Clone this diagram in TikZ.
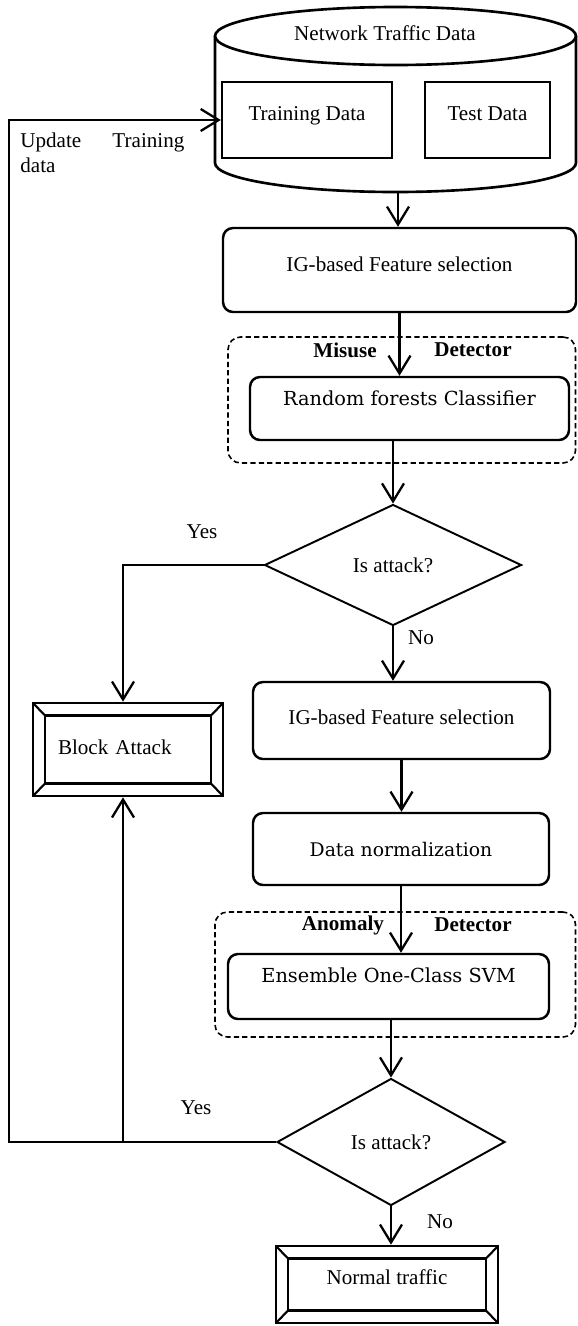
\documentclass[tikz,border=0pt]{standalone}
\usepackage{fontspec}
\setmainfont{Liberation Serif}
\newfontfamily\cambriaface{DejaVu Serif}
\usepackage{tikz}
\usetikzlibrary{positioning,shapes.geometric,arrows.meta}
\tikzset{
  procnode/.style={draw,line width=1.4pt,rounded corners=0.2cm,inner sep=0pt,
    font=\fontsize{12}{14}\selectfont,text height=0.3cm},
  datanode/.style={draw,line width=1.3pt,inner sep=0pt,
    font=\fontsize{12}{14}\selectfont,text height=0.3cm},
  decnode/.style={diamond,aspect=2,draw,line width=1.1pt,inner sep=0pt,
    font=\fontsize{12}{14}\selectfont},
  groupnode/.style={draw,line width=0.9pt,dash pattern=on 3pt off 1.8pt,
    rounded corners=0.25cm,inner sep=0pt},
  grouplabel/.style={font=\fontsize{12}{14}\selectfont\bfseries,inner sep=0pt},
  endnode/.style={draw,line width=1.5pt,inner sep=0pt,
    font=\fontsize{12}{14}\selectfont,text height=0.3cm,
    path picture={
      \draw[line width=1.5pt]
        ([shift={(0.24,-0.25)}]path picture bounding box.north west) rectangle
        ([shift={(-0.24,0.25)}]path picture bounding box.south east);
      \draw[line width=1.2pt]
        (path picture bounding box.north west) -- ++(0.24,-0.25)
        (path picture bounding box.north east) -- ++(-0.24,-0.25)
        (path picture bounding box.south west) -- ++(0.24,0.25)
        (path picture bounding box.south east) -- ++(-0.24,0.25);
    }},
  cylline/.style={line width=1.5pt},
  flow/.style={line width=1.3pt,-{Straight Barb[length=3.6mm,width=4.4mm]}},
  link/.style={line width=1.3pt},
  txt/.style={font=\fontsize{12}{14}\selectfont,inner sep=0pt},
}
\begin{document}
\begin{tikzpicture}
  \useasboundingbox (0,0) rectangle (11.56,-26.52);
  \draw[cylline] (7.91,-0.72) ellipse[x radius=3.61,y radius=0.58];
  \draw[cylline] (4.30,-0.72) -- (4.30,-3.26)
    arc[start angle=180,end angle=360,x radius=3.61,y radius=0.58] -- (11.52,-0.72);
  \node[txt] (dbtitle) at (7.70,-0.66) {Network Traffic Data};
  \node[datanode,minimum width=3.40cm,minimum height=1.52cm,text depth=0.30cm] (trainbox) at (6.14,-2.40) {Training Data};
  \node[datanode,minimum width=2.50cm,minimum height=1.52cm,text depth=0.30cm] (testbox) at (9.75,-2.40) {Test Data};
  \coordinate (dbbot) at (7.96,-3.84);

  \node[procnode,minimum width=7.06cm,minimum height=1.68cm,text depth=0.26cm] (ig1) at (7.99,-5.40) {IG-based Feature selection};
  \node[groupnode,minimum width=6.95cm,minimum height=2.52cm] (misuse) at (8.035,-8.00) {};
  \node[grouplabel] (misuselbl) at (6.90,-7.00) {Misuse};
  \node[grouplabel] (misusedet) at (9.46,-7.00) {Detector};
  \node[procnode,font=\cambriaface\fontsize{11}{13}\selectfont,minimum width=6.38cm,minimum height=1.26cm,text depth=0.44cm] (rf) at (8.19,-8.17) {Random forests Classifier};

  \node[decnode,minimum width=5.14cm,minimum height=2.42cm] (dia1) at (7.86,-11.30) {Is attack?};
  \node[txt] (yes1) at (4.04,-10.64) {Yes};
  \node[txt] (no1) at (8.42,-12.76) {No};

  \node[endnode,text width=2.8cm,align=left,inner xsep=0.5cm,minimum height=1.86cm,text depth=0.12cm] (block) at (2.56,-14.99) {Block Attack};

  \node[procnode,minimum width=5.94cm,minimum height=1.54cm,text depth=0.16cm] (ig2) at (8.03,-14.41) {IG-based Feature selection};
  \node[procnode,font=\cambriaface\fontsize{10.7}{13}\selectfont,minimum width=5.92cm,minimum height=1.44cm,text depth=0.02cm] (dn) at (8.02,-16.98) {Data normalization};
  \node[groupnode,minimum width=7.21cm,minimum height=2.50cm] (anomaly) at (7.905,-19.49) {};
  \node[grouplabel] (anomalylbl) at (6.86,-18.50) {Anomaly};
  \node[grouplabel] (anomalydet) at (9.46,-18.50) {Detector};
  \node[procnode,font=\cambriaface\fontsize{11}{13}\selectfont,minimum width=6.42cm,minimum height=1.30cm,text depth=0.48cm] (ecs) at (7.77,-19.73) {Ensemble One-Class SVM};

  \node[decnode,minimum width=4.56cm,minimum height=2.54cm] (dia2) at (7.82,-22.84) {Is attack?};
  \node[txt] (yes2) at (3.92,-22.16) {Yes};
  \node[txt] (no2) at (8.80,-24.44) {No};
  \node[endnode,minimum width=4.44cm,minimum height=1.54cm,text depth=0.32cm] (normal) at (7.74,-25.69) {Normal traffic};

  \coordinate (feedx) at (0.18,-2.40);
  \node[txt,text width=3.28cm,align=left,anchor=north west] (updlbl) at (0.40,-2.65) {Update\hfill Training\\data};

  \draw[flow] (dbbot) -- (dbbot |- ig1.north);
  \draw[flow] (ig1.south) -- (ig1.south |- rf.north);
  \draw[flow] (dia1.north |- rf.south) -- (dia1.north);
  \draw[flow] (dia1.south) -- (dia1.south |- ig2.north);
  \draw[flow] (dia1.west) -| ([xshift=-0.1cm]block.north);
  \draw[flow] (ig2.south) -- (ig2.south |- dn.north);
  \draw[flow] (dn.south) -- (dn.south |- ecs.north);
  \draw[flow] (dia2.north |- ecs.south) -- (dia2.north);
  \draw[flow] (dia2.south) -- (dia2.south |- normal.north);
  \draw[flow] (dia2.west) -| (feedx) |- (trainbox.west);
  \draw[flow] ([xshift=-0.1cm]block.south |- dia2.west) -- ([xshift=-0.1cm]block.south);
\end{tikzpicture}
\end{document}
